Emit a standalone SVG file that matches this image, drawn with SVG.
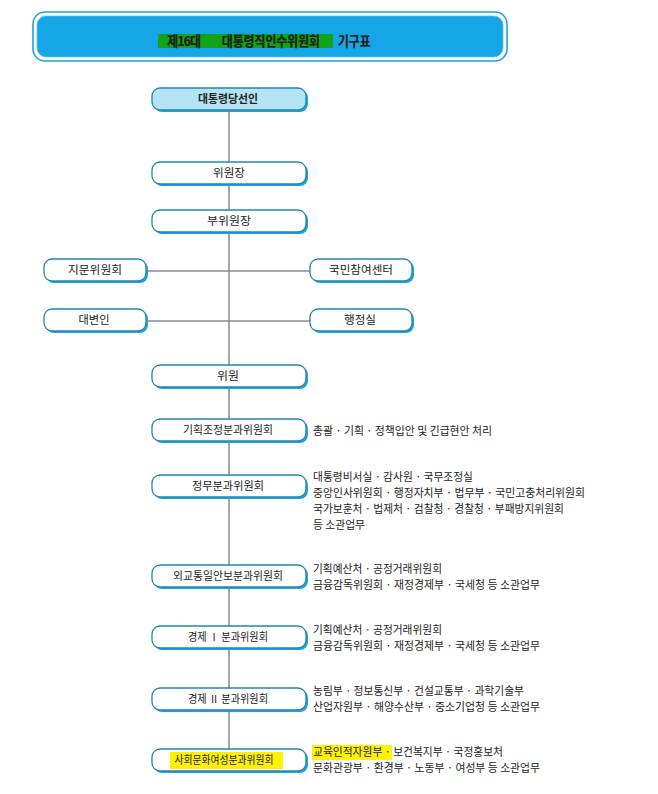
<svg xmlns="http://www.w3.org/2000/svg" width="658" height="794" viewBox="0 0 658 794">
<defs>
<style>
text{font-family:"Noto Sans CJK KR","Noto Sans",sans-serif;fill:#222;}
.shadow{fill:#1ea2de;}
.box{fill:#fff;stroke:#2585b0;stroke-width:1.3;}
.top{fill:#b5e3f6;}
.lbl{font-size:11px;text-anchor:middle;}
.desc{font-size:11.5px;}
.line{stroke:#8a8a8a;stroke-width:1.5;fill:none;}
</style>
</defs>
<rect width="658" height="794" fill="#fff"/>

<g id="title">
<rect x="33" y="12" width="474" height="49" rx="12" fill="#fff" stroke="#1ea2de" stroke-width="1.6"/>
<rect x="37" y="16" width="466" height="41" rx="9" fill="#14a6e6" stroke="#5cc4ef" stroke-width="0.8"/>
<rect x="158" y="34" width="175" height="14" fill="#12a318"/>
<text transform="scale(0.88 1)" font-size="13.5" font-weight="bold" y="46.5" fill="#111" stroke="#111" stroke-width="0.25"><tspan x="190" letter-spacing="-0.8">제16대</tspan><tspan x="252">대통령직인수위원회</tspan><tspan x="384">기구표</tspan></text>
</g>

<g id="connectors">
<line class="line" x1="229" y1="112" x2="229" y2="749"/>
<line class="line" x1="146" y1="271" x2="311" y2="271"/>
<line class="line" x1="146" y1="321" x2="311" y2="321"/>
</g>

<g id="n-elect">
<rect class="shadow" x="154" y="90" width="154" height="22" rx="8"/>
<rect class="box top" x="152" y="88" width="154" height="22" rx="8"/>
<text class="lbl" x="228" y="103" font-weight="bold" textLength="60" lengthAdjust="spacingAndGlyphs">대통령당선인</text>
</g>
<g id="n-chair">
<rect class="shadow" x="154" y="164" width="154" height="22" rx="8"/>
<rect class="box" x="152" y="162" width="154" height="22" rx="8"/>
<text class="lbl" x="229" y="177" textLength="32" lengthAdjust="spacingAndGlyphs">위원장</text>
</g>
<g id="n-vice">
<rect class="shadow" x="154" y="212" width="154" height="22" rx="8"/>
<rect class="box" x="152" y="210" width="154" height="22" rx="8"/>
<text class="lbl" x="229" y="225" textLength="44" lengthAdjust="spacingAndGlyphs">부위원장</text>
</g>
<g id="n-advisory">
<rect class="shadow" x="46" y="261" width="102" height="22" rx="8"/>
<rect class="box" x="44" y="259" width="102" height="22" rx="8"/>
<text class="lbl" x="95" y="274" textLength="54" lengthAdjust="spacingAndGlyphs">지문위원회</text>
</g>
<g id="n-participation">
<rect class="shadow" x="312" y="261" width="102" height="22" rx="8"/>
<rect class="box" x="310" y="259" width="102" height="22" rx="8"/>
<text class="lbl" x="361" y="274" textLength="64" lengthAdjust="spacingAndGlyphs">국민참여센터</text>
</g>
<g id="n-spokesman">
<rect class="shadow" x="46" y="311" width="102" height="22" rx="8"/>
<rect class="box" x="44" y="309" width="102" height="22" rx="8"/>
<text class="lbl" x="94" y="324" textLength="31" lengthAdjust="spacingAndGlyphs">대변인</text>
</g>
<g id="n-admin">
<rect class="shadow" x="312" y="311" width="102" height="22" rx="8"/>
<rect class="box" x="310" y="309" width="102" height="22" rx="8"/>
<text class="lbl" x="360" y="324" textLength="32" lengthAdjust="spacingAndGlyphs">행정실</text>
</g>
<g id="n-member">
<rect class="shadow" x="154" y="367" width="154" height="22" rx="8"/>
<rect class="box" x="152" y="365" width="154" height="22" rx="8"/>
<text class="lbl" x="228" y="380" textLength="22" lengthAdjust="spacingAndGlyphs">위원</text>
</g>

<g id="n-planning">
<rect class="shadow" x="154" y="421" width="154" height="22" rx="8"/>
<rect class="box" x="152" y="419" width="154" height="22" rx="8"/>
<text class="lbl" x="228" y="434" textLength="90" lengthAdjust="spacingAndGlyphs">기획조정분과위원회</text>
<text class="desc" x="313" y="435" textLength="179" lengthAdjust="spacingAndGlyphs">총괄 · 기획 · 정책입안 및 긴급현안 처리</text>
</g>
<g id="n-politics">
<rect class="shadow" x="154" y="477" width="154" height="22" rx="8"/>
<rect class="box" x="152" y="475" width="154" height="22" rx="8"/>
<text class="lbl" x="228" y="490" textLength="72" lengthAdjust="spacingAndGlyphs">정무분과위원회</text>
<text class="desc" x="313" y="481" textLength="160" lengthAdjust="spacingAndGlyphs">대통령비서실 · 감사원 · 국무조정실</text>
<text class="desc" x="313" y="497" textLength="272" lengthAdjust="spacingAndGlyphs">중앙인사위원회 · 행정자치부 · 법무부 · 국민고충처리위원회</text>
<text class="desc" x="313" y="513" textLength="251" lengthAdjust="spacingAndGlyphs">국가보훈처 · 법제처 · 검찰청 · 경찰청 · 부패방지위원회</text>
<text class="desc" x="313" y="529" textLength="52" lengthAdjust="spacingAndGlyphs">등 소관업무</text>
</g>
<g id="n-foreign">
<rect class="shadow" x="154" y="567" width="154" height="22" rx="8"/>
<rect class="box" x="152" y="565" width="154" height="22" rx="8"/>
<text class="lbl" x="228" y="580" textLength="110" lengthAdjust="spacingAndGlyphs">외교통일안보분과위원회</text>
<text class="desc" x="313" y="573" textLength="129" lengthAdjust="spacingAndGlyphs">기획예산처 · 공정거래위원회</text>
<text class="desc" x="313" y="589" textLength="227" lengthAdjust="spacingAndGlyphs">금융감독위원회 · 재정경제부 · 국세청 등 소관업무</text>
</g>
<g id="n-econ1">
<rect class="shadow" x="154" y="628" width="154" height="22" rx="8"/>
<rect class="box" x="152" y="626" width="154" height="22" rx="8"/>
<text class="lbl" x="228" y="641" textLength="80" lengthAdjust="spacingAndGlyphs">경제 Ⅰ 분과위원회</text>
<text class="desc" x="313" y="634" textLength="129" lengthAdjust="spacingAndGlyphs">기획예산처 · 공정거래위원회</text>
<text class="desc" x="313" y="650" textLength="227" lengthAdjust="spacingAndGlyphs">금융감독위원회 · 재정경제부 · 국세청 등 소관업무</text>
</g>
<g id="n-econ2">
<rect class="shadow" x="154" y="690" width="154" height="22" rx="8"/>
<rect class="box" x="152" y="688" width="154" height="22" rx="8"/>
<text class="lbl" x="228" y="703" textLength="80" lengthAdjust="spacingAndGlyphs">경제 Ⅱ 분과위원회</text>
<text class="desc" x="313" y="695" textLength="211" lengthAdjust="spacingAndGlyphs">농림부 · 정보통신부 · 건설교통부 · 과학기술부</text>
<text class="desc" x="313" y="711" textLength="227" lengthAdjust="spacingAndGlyphs">산업자원부 · 해양수산부 · 중소기업청 등 소관업무</text>
</g>
<g id="n-social">
<rect class="shadow" x="154" y="751" width="154" height="22" rx="8"/>
<rect class="box" x="152" y="749" width="154" height="22" rx="8"/>
<rect x="170" y="752" width="113" height="17" fill="#fff200"/>
<text class="lbl" x="224" y="764" textLength="99" lengthAdjust="spacingAndGlyphs">사회문화여성분과위원회</text>
<rect x="312" y="745" width="80" height="15" fill="#fff200"/>
<text class="desc" x="313" y="756" textLength="190" lengthAdjust="spacingAndGlyphs">교육인적자원부 · 보건복지부 · 국정홍보처</text>
<text class="desc" x="313" y="772" textLength="227" lengthAdjust="spacingAndGlyphs">문화관광부 · 환경부 · 노동부 · 여성부 등 소관업무</text>
</g>
</svg>
